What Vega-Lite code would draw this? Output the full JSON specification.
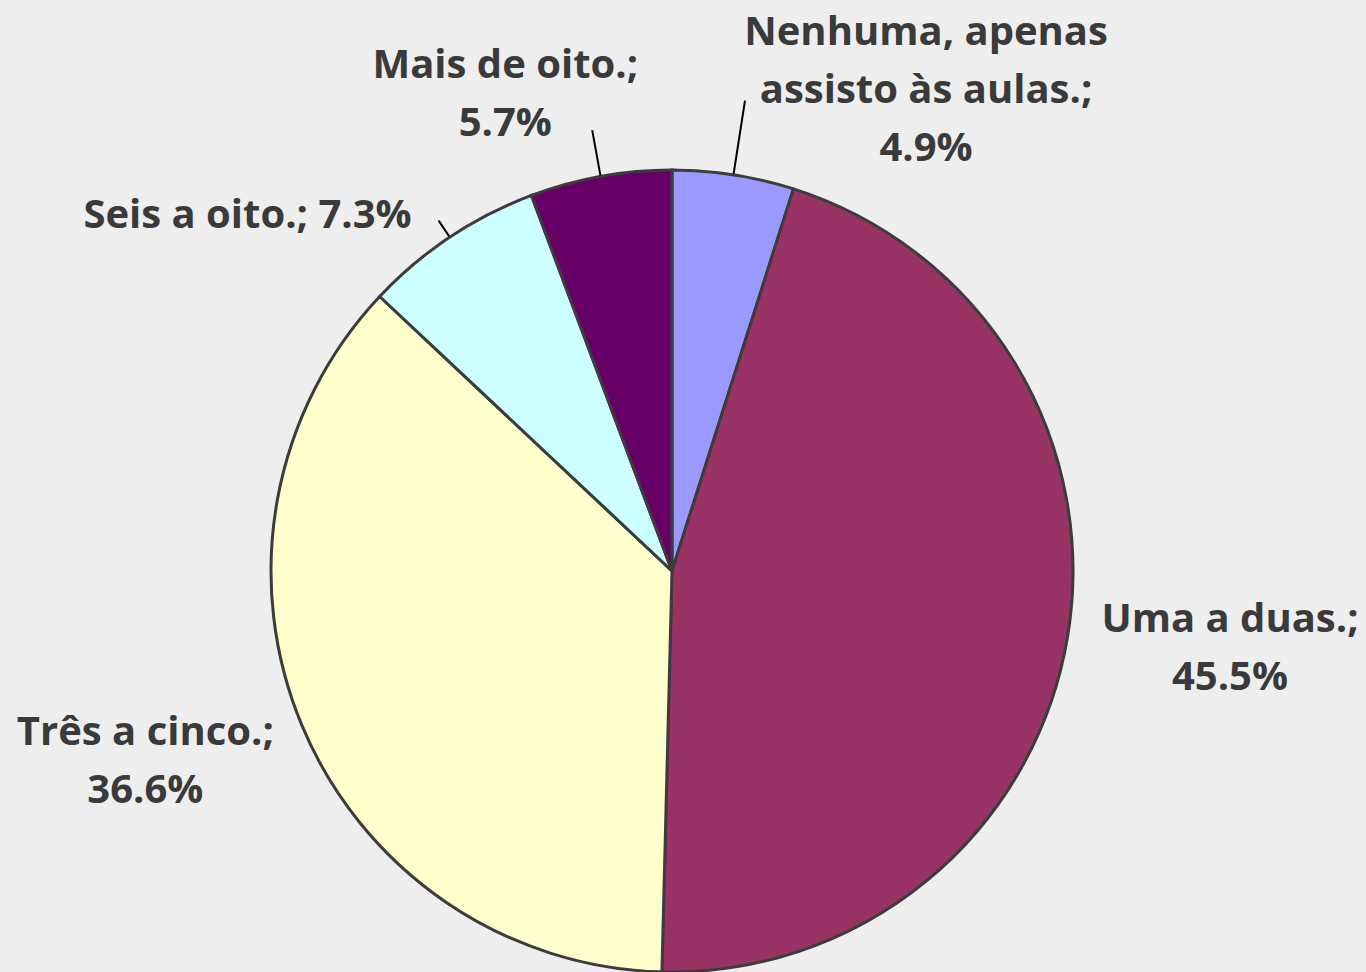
{
  "$schema": "https://vega.github.io/schema/vega-lite/v6.json",
  "width": 802,
  "height": 802,
  "autosize": {"type": "none"},
  "padding": {"left": 271, "top": 170, "right": 293, "bottom": 0},
  "background": "#eeeeee",
  "view": {"stroke": null},
  "data": {
    "values": [
      {"category": "Nenhuma, apenas assisto às aulas.", "pct": 4.9, "ord": 1, "label": "Nenhuma, apenas\nassisto às aulas.;\n4.9%"},
      {"category": "Uma a duas.", "pct": 45.5, "ord": 2, "label": "Uma a duas.;\n45.5%"},
      {"category": "Três a cinco.", "pct": 36.6, "ord": 3, "label": "Três a cinco.;\n36.6%"},
      {"category": "Seis a oito.", "pct": 7.3, "ord": 4, "label": "Seis a oito.; 7.3%"},
      {"category": "Mais de oito.", "pct": 5.7, "ord": 5, "label": "Mais de oito.;\n5.7%"}
    ]
  },
  "encoding": {
    "theta": {"field": "pct", "type": "quantitative", "stack": true},
    "order": {"field": "ord", "type": "quantitative"}
  },
  "layer": [
    {
      "mark": {"type": "arc", "stroke": "#3c3c3c", "strokeWidth": 3},
      "encoding": {
        "color": {
          "field": "category",
          "type": "nominal",
          "legend": null,
          "scale": {
            "domain": ["Nenhuma, apenas assisto às aulas.", "Uma a duas.", "Três a cinco.", "Seis a oito.", "Mais de oito."],
            "range": ["#9999ff", "#993366", "#ffffcc", "#ccffff", "#660066"]
          }
        }
      }
    },
    {
      "mark": {"type": "arc", "radius": 476, "radius2": 402, "padAngle": 3, "fill": "#000000", "fillOpacity": 0, "stroke": "#000000", "strokeWidth": 2},
      "encoding": {"strokeOpacity": {"condition": {"test": "datum.ord === 1", "value": 1}, "value": 0}}
    },
    {
      "mark": {"type": "arc", "radius": 448, "radius2": 402, "padAngle": 3, "fill": "#000000", "fillOpacity": 0, "stroke": "#000000", "strokeWidth": 2},
      "encoding": {"strokeOpacity": {"condition": {"test": "datum.ord === 5", "value": 1}, "value": 0}}
    },
    {
      "mark": {"type": "arc", "radius": 421, "radius2": 402, "padAngle": 3, "fill": "#000000", "fillOpacity": 0, "stroke": "#000000", "strokeWidth": 2},
      "encoding": {"strokeOpacity": {"condition": {"test": "datum.ord === 4", "value": 1}, "value": 0}}
    },
    {
      "mark": {"type": "text", "radius": 470, "dx": 182, "dy": -61.5, "font": "Open Sans", "fontWeight": "bold", "fontSize": 40, "fill": "#3a3a3a", "align": "center", "baseline": "alphabetic", "lineBreak": "\n", "lineHeight": 58},
      "encoding": {"text": {"condition": {"test": "datum.ord === 1", "field": "label"}, "value": ""}}
    },
    {
      "mark": {"type": "text", "radius": 470, "dx": 94.5, "dy": -17, "font": "Open Sans", "fontWeight": "bold", "fontSize": 40, "fill": "#3a3a3a", "align": "center", "baseline": "alphabetic", "lineBreak": "\n", "lineHeight": 58},
      "encoding": {"text": {"condition": {"test": "datum.ord === 2", "field": "label"}, "value": ""}}
    },
    {
      "mark": {"type": "text", "radius": 470, "dx": -93, "dy": -7, "font": "Open Sans", "fontWeight": "bold", "fontSize": 40, "fill": "#3a3a3a", "align": "center", "baseline": "alphabetic", "lineBreak": "\n", "lineHeight": 58},
      "encoding": {"text": {"condition": {"test": "datum.ord === 3", "field": "label"}, "value": ""}}
    },
    {
      "mark": {"type": "text", "radius": 470, "dx": -164, "dy": 48, "font": "Open Sans", "fontWeight": "bold", "fontSize": 40, "fill": "#3a3a3a", "align": "center", "baseline": "alphabetic", "lineBreak": "\n", "lineHeight": 58},
      "encoding": {"text": {"condition": {"test": "datum.ord === 4", "field": "label"}, "value": ""}}
    },
    {
      "mark": {"type": "text", "radius": 470, "dx": -83, "dy": -30.5, "font": "Open Sans", "fontWeight": "bold", "fontSize": 40, "fill": "#3a3a3a", "align": "center", "baseline": "alphabetic", "lineBreak": "\n", "lineHeight": 58},
      "encoding": {"text": {"condition": {"test": "datum.ord === 5", "field": "label"}, "value": ""}}
    }
  ]
}
